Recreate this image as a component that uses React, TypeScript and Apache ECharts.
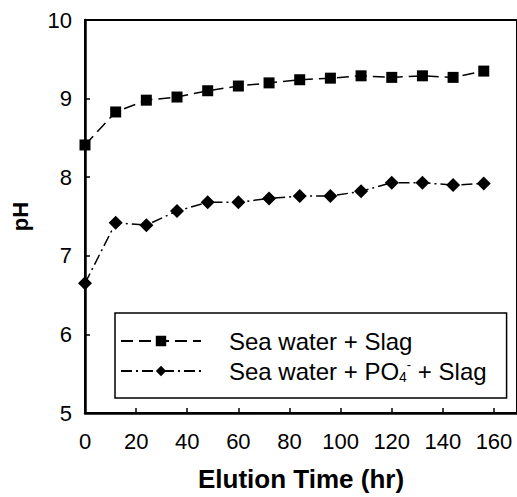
import React, { useEffect, useRef } from 'react';
import * as echarts from 'echarts';

const times = [0, 12, 24, 36, 48, 60, 72, 84, 96, 108, 120, 132, 144, 156];
const slag = [8.41, 8.83, 8.98, 9.02, 9.1, 9.16, 9.2, 9.24, 9.26, 9.29, 9.27, 9.29, 9.27, 9.35];
const po4Slag = [6.65, 7.42, 7.39, 7.57, 7.68, 7.68, 7.73, 7.76, 7.76, 7.82, 7.93, 7.93, 7.9, 7.92];
const seriesNames = ['Sea water + Slag', 'Sea water + PO4- + Slag'];
const xTickLabels = ['0', '20', '40', '60', '80', '100', '120', '140', '160'];
const yTickLabels = ['5', '6', '7', '8', '9', '10'];

const FONT = '"Liberation Sans", Arial, sans-serif';

export default function App() {
  const ref = useRef<HTMLDivElement>(null);
  useEffect(() => {
    if (!ref.current) return;
    const chart = echarts.init(ref.current, null, { renderer: 'svg' });
    const pair = (ys: number[]) => times.map((t, i) => [t, ys[i]]);
    chart.setOption({
      animation: false,
      backgroundColor: '#fff',
      textStyle: { fontFamily: FONT, color: '#000' },
      grid: {
        left: 85,
        right: 0,
        top: 20,
        bottom: 82,
        show: true,
        borderColor: '#000',
        borderWidth: 2,
      },
      xAxis: {
        type: 'value',
        min: 0,
        max: 169,
        interval: 20,
        name: 'Elution Time (hr)',
        nameLocation: 'middle',
        nameGap: 53,
        nameTextStyle: { fontFamily: FONT, fontSize: 26, fontWeight: 'bold', color: '#000' },
        axisLine: { show: true, lineStyle: { color: '#000', width: 2.5 } },
        axisTick: { show: true, inside: true, length: 5, lineStyle: { color: '#000', width: 1.5 } },
        splitLine: { show: false },
        axisLabel: {
          margin: 17,
          fontFamily: FONT,
          fontSize: 22,
          color: '#000',
          showMaxLabel: false,
          formatter: (v: number) => (xTickLabels.includes(String(v)) ? String(v) : ''),
        },
      },
      yAxis: {
        type: 'value',
        min: 5,
        max: 10,
        interval: 1,
        name: 'pH',
        nameLocation: 'middle',
        nameRotate: 90,
        nameGap: 54,
        nameTextStyle: { fontFamily: FONT, fontSize: 22, fontWeight: 'bold', color: '#000' },
        axisLine: { show: true, lineStyle: { color: '#000', width: 2.5 } },
        axisTick: { show: true, inside: true, length: 5, lineStyle: { color: '#000', width: 1.5 } },
        splitLine: { show: false },
        axisLabel: {
          margin: 13,
          fontFamily: FONT,
          fontSize: 22,
          color: '#000',
          formatter: (v: number) => (yTickLabels.includes(String(v)) ? String(v) : ''),
        },
      },
      legend: {
        orient: 'vertical',
        left: 115,
        top: 313,
        padding: [15, 20, 14, 5],
        itemGap: 4,
        itemWidth: 80,
        itemHeight: 13,
        borderColor: '#000',
        borderWidth: 1.5,
        backgroundColor: '#fff',
        data: seriesNames,
        formatter: (name: string) =>
          name === seriesNames[1] ? 'Sea water + PO{sub|4}{sup|-} + Slag' : name,
        textStyle: {
          fontFamily: FONT,
          fontSize: 24,
          color: '#000',
          lineHeight: 26,
          padding: [0, 0, 0, 23],
          rich: {
            sub: { fontFamily: FONT, fontSize: 14, color: '#000', verticalAlign: 'bottom', lineHeight: 12 },
            sup: { fontFamily: FONT, fontSize: 13, color: '#000', verticalAlign: 'top', lineHeight: 12 },
          },
        },
      },
      series: [
        {
          name: seriesNames[0],
          type: 'line',
          data: pair(slag),
          symbol: 'rect',
          symbolSize: 11,
          itemStyle: { color: '#000' },
          lineStyle: { color: '#000', width: 1.5, type: [12, 6] },
          z: 3,
        },
        {
          name: seriesNames[1],
          type: 'line',
          data: pair(po4Slag),
          symbol: 'diamond',
          symbolSize: 14,
          itemStyle: { color: '#000' },
          lineStyle: { color: '#000', width: 1.5, type: [11, 4, 2, 4] },
          z: 3,
        },
      ],
    });
    return () => chart.dispose();
  }, []);
  return (
    <div
      ref={ref}
      style={{ position: 'fixed', left: 0, top: 0, width: 517, height: 497, background: '#fff' }}
    />
  );
}
